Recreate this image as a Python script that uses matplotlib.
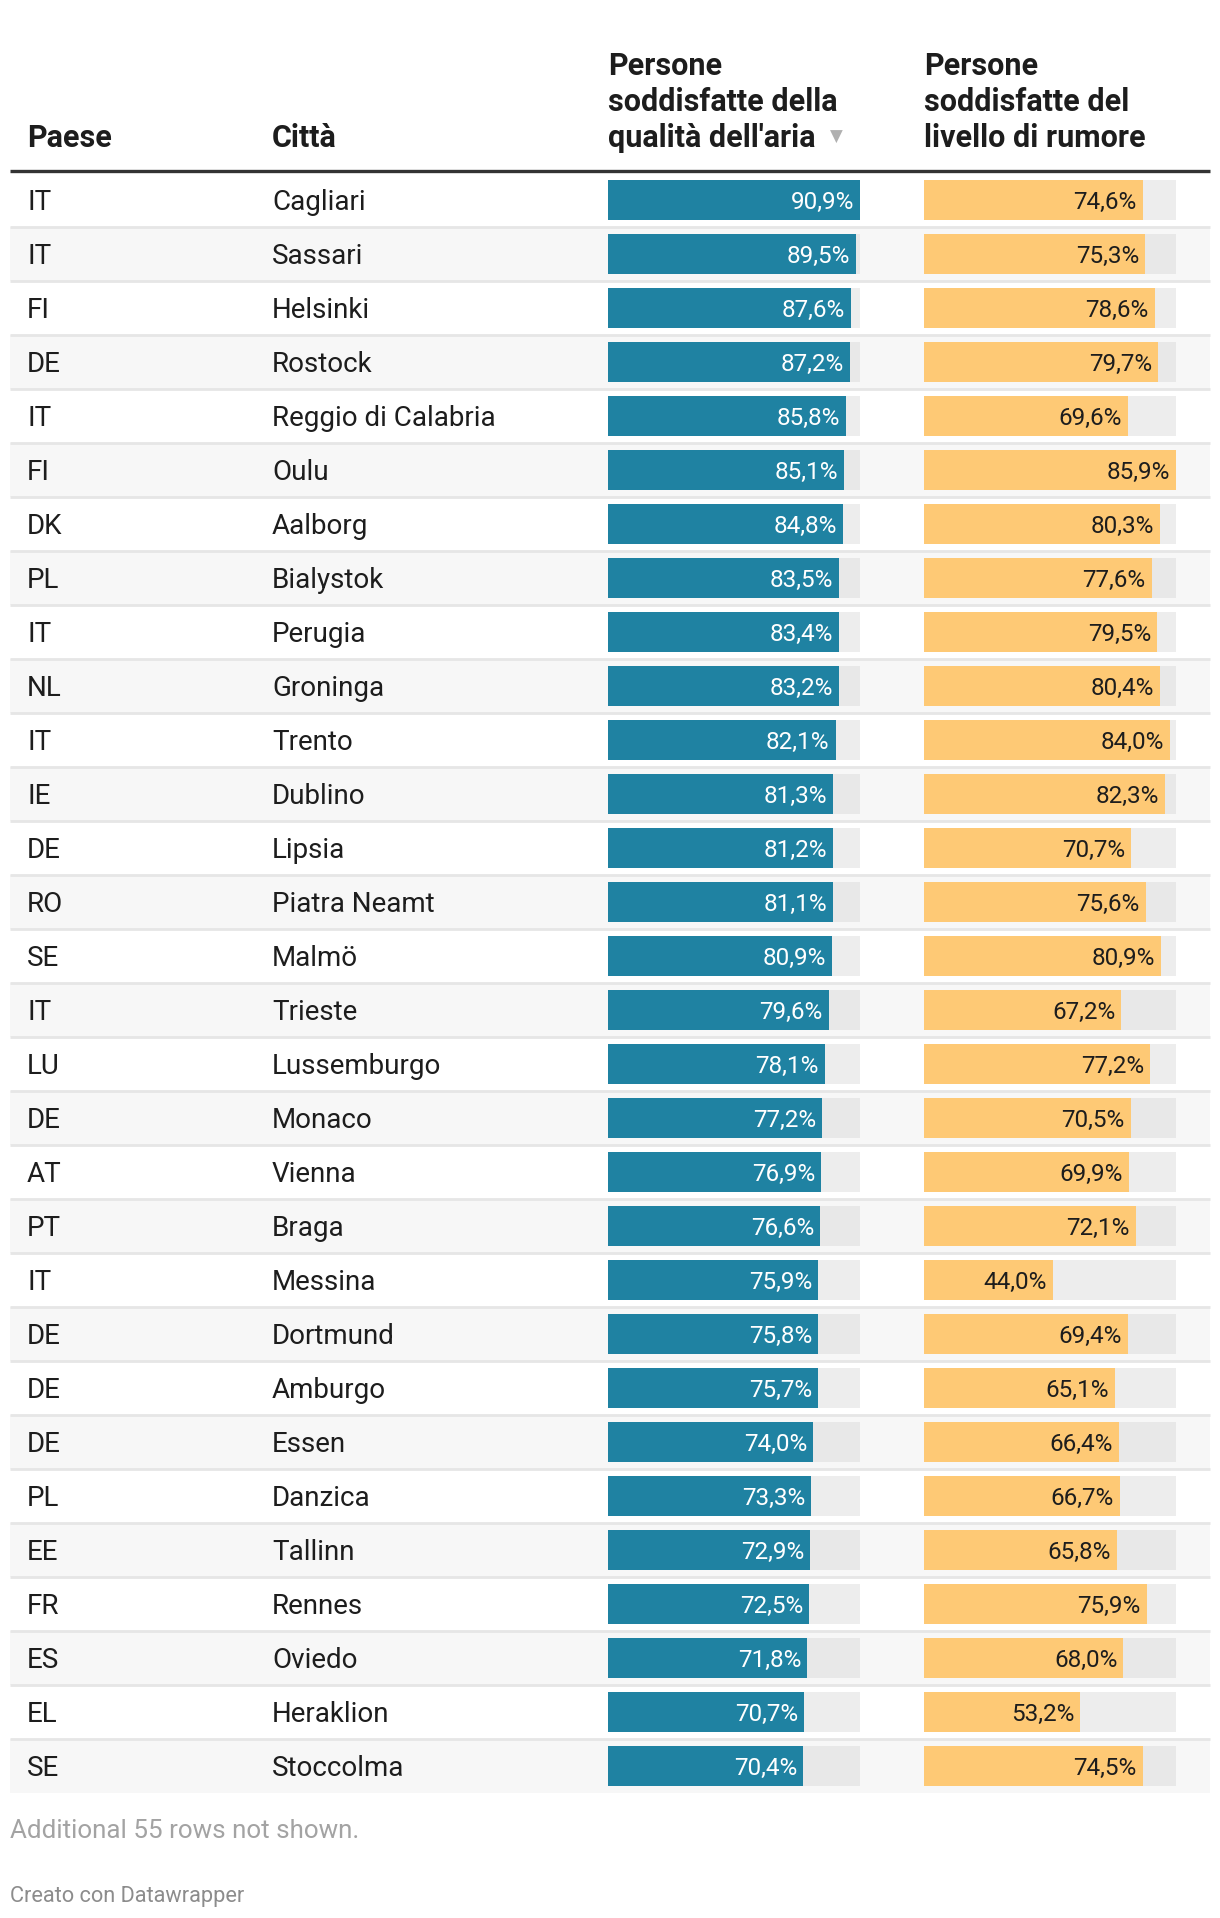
import numpy as np
import matplotlib
matplotlib.use('Agg')
import matplotlib.pyplot as plt

plt.rcParams['font.family'] = ['Roboto', 'DejaVu Sans']
plt.rcParams['text.color'] = '#1d1d1d'

countries = ['IT', 'IT', 'FI', 'DE', 'IT', 'FI', 'DK', 'PL', 'IT', 'NL',
             'IT', 'IE', 'DE', 'RO', 'SE', 'IT', 'LU', 'DE', 'AT', 'PT',
             'IT', 'DE', 'DE', 'DE', 'PL', 'EE', 'FR', 'ES', 'EL', 'SE']
cities = ['Cagliari', 'Sassari', 'Helsinki', 'Rostock', 'Reggio di Calabria',
          'Oulu', 'Aalborg', 'Bialystok', 'Perugia', 'Groninga',
          'Trento', 'Dublino', 'Lipsia', 'Piatra Neamt', 'Malmö',
          'Trieste', 'Lussemburgo', 'Monaco', 'Vienna', 'Braga',
          'Messina', 'Dortmund', 'Amburgo', 'Essen', 'Danzica',
          'Tallinn', 'Rennes', 'Oviedo', 'Heraklion', 'Stoccolma']
air = [90.9, 89.5, 87.6, 87.2, 85.8, 85.1, 84.8, 83.5, 83.4, 83.2,
       82.1, 81.3, 81.2, 81.1, 80.9, 79.6, 78.1, 77.2, 76.9, 76.6,
       75.9, 75.8, 75.7, 74.0, 73.3, 72.9, 72.5, 71.8, 70.7, 70.4]
noise = [74.6, 75.3, 78.6, 79.7, 69.6, 85.9, 80.3, 77.6, 79.5, 80.4,
         84.0, 82.3, 70.7, 75.6, 80.9, 67.2, 77.2, 70.5, 69.9, 72.1,
         44.0, 69.4, 65.1, 66.4, 66.7, 65.8, 75.9, 68.0, 53.2, 74.5]
headers = ['Paese', 'Città',
           ['Persone', 'soddisfatte della', "qualità dell'aria"],
           ['Persone', 'soddisfatte del', 'livello di rumore']]
note = 'Additional 55 rows not shown.'
credit = 'Creato con Datawrapper'

BLUE = '#1f82a2'
ORANGE = '#fec975'

# layout in pixels
W, H = 1220, 1918
left, right = 10, 1210
top = 173
pitch = 54.0
n = len(cities)
bottom = top + n * pitch
col_x = [27, 272, 608, 924]
bar_w = 252
fs_row = 20
fs_head = 22
fs_val = 17.5

fig = plt.figure(figsize=(W / 100, H / 100), dpi=100)
ax = fig.add_axes([0, 0, 1, 1])
ax.set_xlim(0, W)
ax.set_ylim(H, 0)
ax.axis('off')

# row backgrounds and separators
for i in range(n):
    y0 = top + i * pitch
    if i % 2 == 1:
        ax.add_patch(plt.Rectangle((left, y0), right - left, pitch,
                                   color='#f7f7f7', lw=0, zorder=0))
    if i > 0:
        ax.plot([left, right], [y0, y0], color='#e6e6e6', lw=2, zorder=1,
                solid_capstyle='butt')
    yc = y0 + pitch / 2
    ax.text(col_x[0], yc, countries[i], fontsize=fs_row, va='center_baseline')
    ax.text(col_x[1], yc, cities[i], fontsize=fs_row, va='center_baseline')

# header
ax.plot([left, right], [171, 171], color='#333333', lw=2.4,
        solid_capstyle='butt', zorder=2)
line_y = [63, 99, 135]
ax.text(col_x[0], line_y[2], headers[0], fontsize=fs_head, weight='bold',
        va='center_baseline')
ax.text(col_x[1], line_y[2], headers[1], fontsize=fs_head, weight='bold',
        va='center_baseline')
for k in (2, 3):
    for j, s in enumerate(headers[k]):
        ax.text(col_x[k], line_y[j], s, fontsize=fs_head, weight='bold',
                va='center_baseline')
ax.text(836, line_y[2] + 2, '▼', fontsize=12, color='#b0b0b0',
        family='DejaVu Sans', ha='center', va='center')

# footer
ax.text(left, 1828, note, fontsize=18.7, color='#a3a3a3', va='center_baseline')
ax.text(left, 1894, credit, fontsize=15.7, color='#8c8c8c', va='center_baseline')

# bar columns
def bar_column(x0, vals, color, txt_color):
    bx = fig.add_axes([x0 / W, 1 - bottom / H, bar_w / W, (bottom - top) / H])
    bx.set_xlim(0, max(vals))
    bx.set_ylim(n - 0.5, -0.5)
    bx.axis('off')
    ypos = np.arange(n)
    for i in ypos:
        track = '#e8e8e8' if i % 2 == 1 else '#ededed'
        bx.barh(i, max(vals), height=0.74, color=track, lw=0)
    bx.barh(ypos, vals, height=0.74, color=color, lw=0)
    for i, v in zip(ypos, vals):
        bx.annotate(f'{v:.1f}'.replace('.', ',') + '%', xy=(v, i),
                    xytext=(-6, 0), textcoords='offset pixels',
                    ha='right', va='center_baseline', fontsize=fs_val,
                    color=txt_color)
    return bx

bar_column(col_x[2], air, BLUE, 'white')
bar_column(col_x[3], noise, ORANGE, '#1d1d1d')

plt.savefig('out.png', dpi=100, facecolor='white')
